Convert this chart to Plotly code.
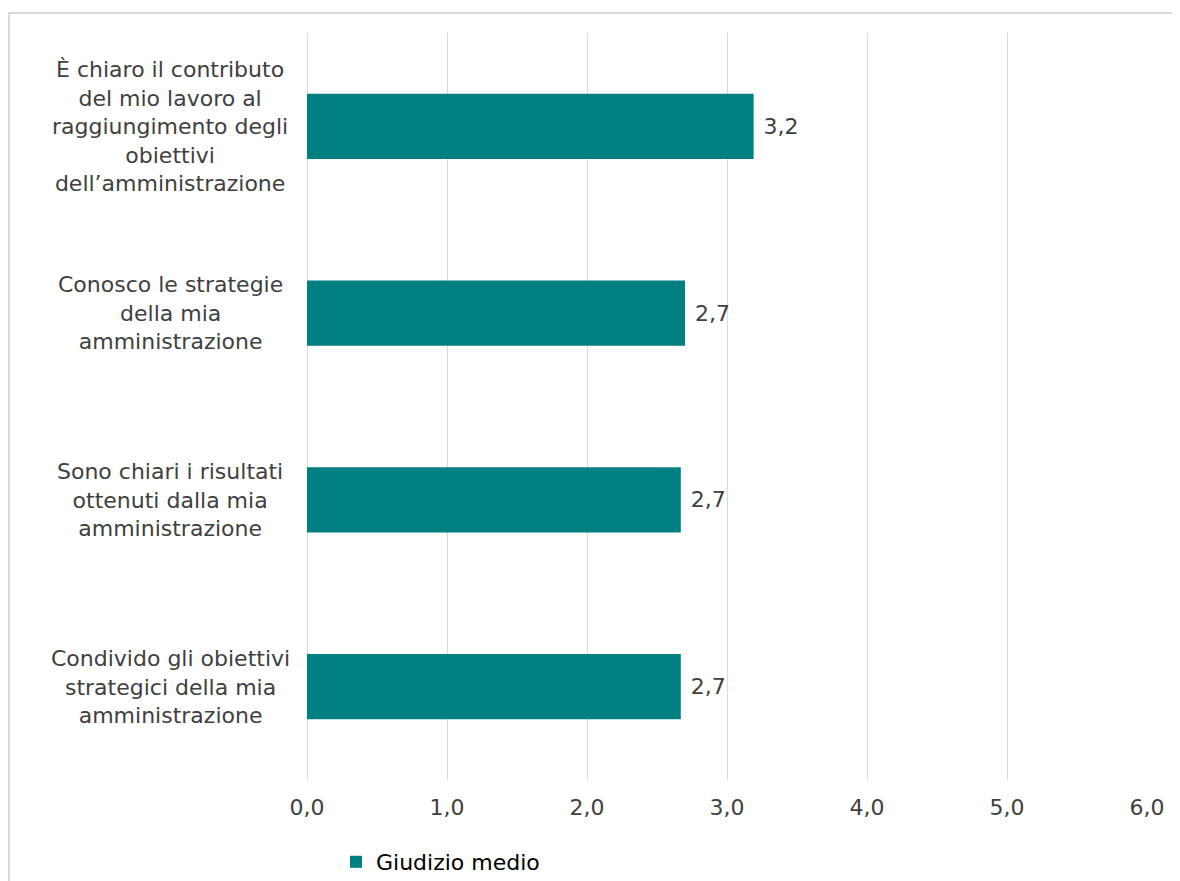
import plotly.graph_objects as go

categories = [
    "È chiaro il contributo<br>del mio lavoro al<br>raggiungimento degli<br>obiettivi<br>dell’amministrazione",
    "Conosco le strategie<br>della mia<br>amministrazione",
    "Sono chiari i risultati<br>ottenuti dalla mia<br>amministrazione",
    "Condivido gli obiettivi<br>strategici della mia<br>amministrazione",
]
values = [3.19, 2.70, 2.67, 2.67]
series_name = "Giudizio medio"
tick_values = [0, 1, 2, 3, 4, 5, 6]

# page body has an 8px default margin
OFF = 8
W, H = 1180 - OFF, 881 - OFF
ML, MT = 307 - OFF, 33 - OFF
PW, PH = 840, 747
MR = W - ML - PW
MB = H - MT - PH

FONT = "DejaVu Sans"
TXT = "#404040"
BAR = "#008080"
GRID = "#d9d9d9"
FS = 22

fig = go.Figure()
fig.add_trace(go.Bar(
    y=categories, x=values, orientation="h", name=series_name,
    marker=dict(color=BAR, line=dict(width=0)),
    width=0.35,
    texttemplate=" %{x:.1f}", textposition="outside",
    textfont=dict(family=FONT, size=FS, color=TXT),
    cliponaxis=False,
))

for c in categories:
    fig.add_annotation(
        x=(170 - 307) / PW, xref="paper", y=c, yref="y",
        text=c, showarrow=False, align="center", xanchor="center", yanchor="middle",
        font=dict(family=FONT, size=FS, color=TXT),
    )

fig.add_shape(
    type="rect", xref="paper", yref="paper",
    x0=(9 - 307) / PW, x1=(1200 - 307) / PW,
    y0=-(130) / PH, y1=1 + (33 - 13) / PH,
    line=dict(color=GRID, width=2), fillcolor="rgba(0,0,0,0)", layer="below",
)

fig.update_layout(
    width=W, height=H,
    margin=dict(l=ML, r=MR, t=MT, b=MB, pad=0, autoexpand=False),
    paper_bgcolor="white", plot_bgcolor="white",
    separators=",.",
    font=dict(family=FONT, size=FS, color=TXT),
    showlegend=True,
    legend=dict(
        orientation="h", x=(336 - OFF) / W, xanchor="left", xref="container",
        y=1 - (862 - OFF) / H, yanchor="middle", yref="container",
        font=dict(family=FONT, size=FS, color="#000000"),
        itemwidth=30, bgcolor="rgba(0,0,0,0)",
    ),
    xaxis=dict(
        range=[0, 6], tickvals=tick_values, tickformat=".1f",
        showgrid=True, gridcolor=GRID, gridwidth=1,
        zeroline=True, zerolinecolor=GRID, zerolinewidth=1,
        showline=False, ticks="", ticklabelstandoff=12,
        tickfont=dict(family=FONT, size=FS, color=TXT),
    ),
    yaxis=dict(
        categoryorder="array", categoryarray=categories[::-1],
        showticklabels=False, showgrid=False, zeroline=False, showline=False, ticks="",
    ),
)

fig.write_html("out.html")
